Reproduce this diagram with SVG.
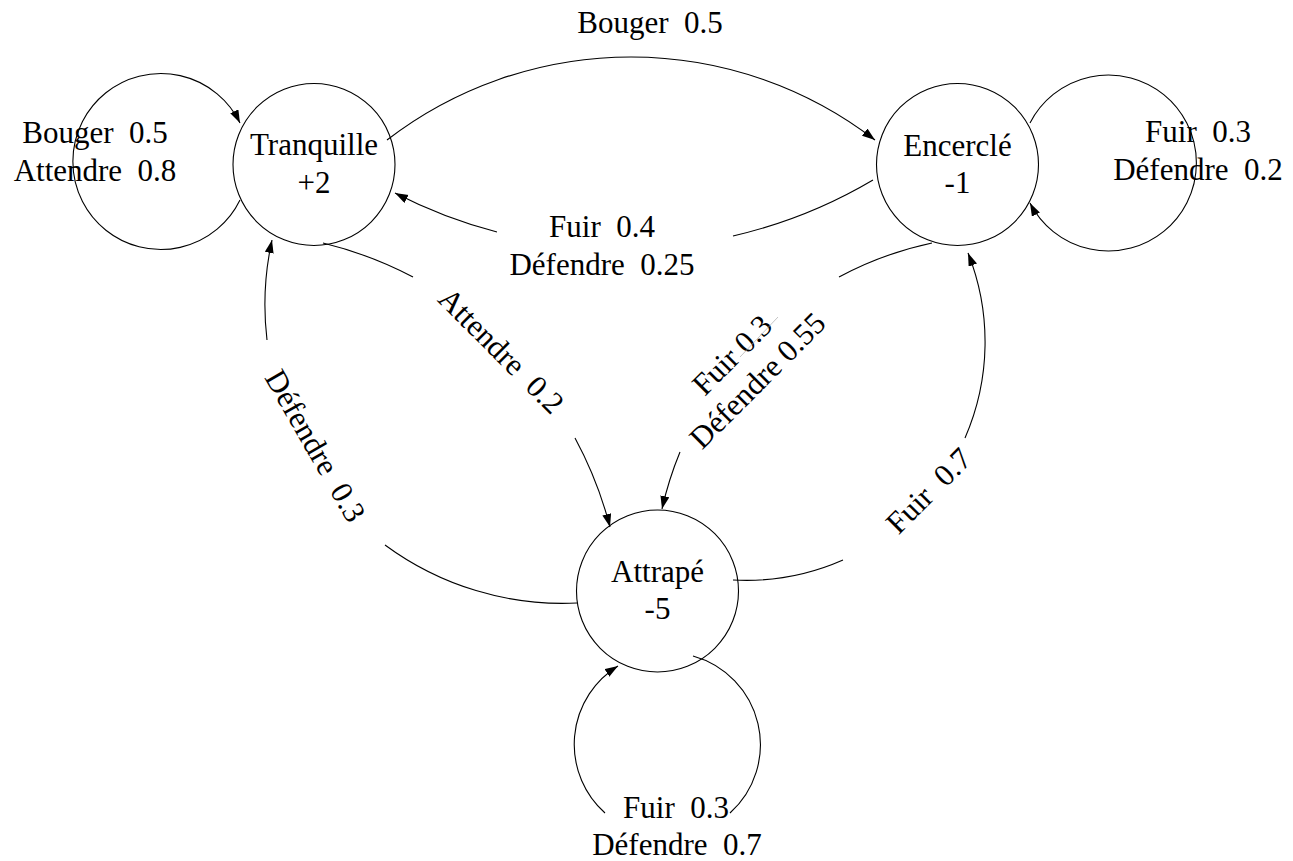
<svg xmlns="http://www.w3.org/2000/svg" width="1293" height="861" viewBox="0 0 1293 861" font-family="Liberation Serif, Times New Roman, serif">
  <style>
    .node { fill: none; stroke: #000; stroke-width: 1.1; }
    .edge { fill: none; stroke: #000; stroke-width: 1.1; }
    .lbl { font-size: 31px; fill: #000; text-anchor: middle; white-space: pre; }
  </style>
  <defs>
    <marker id="arrow" markerUnits="userSpaceOnUse" markerWidth="14" markerHeight="10" refX="13" refY="4.5" orient="auto">
      <path d="M0,0 L13,4.5 L0,9 Z" fill="#000"/>
    </marker>
  </defs>

  <rect width="1293" height="861" fill="#fff"/>

  <!-- transitions -->
  <g id="connectors">
    <!-- Tranquille -> Encerclé -->
    <path class="edge" d="M387,140 A400,400 0 0 1 875,140" marker-end="url(#arrow)"/>
    <text class="lbl" x="650" y="33" xml:space="preserve">Bouger  0.5</text>

    <!-- Tranquille self loop -->
    <path class="edge" d="M240,200 A88,88 0 1 1 240,123" marker-end="url(#arrow)"/>
    <text class="lbl" x="95" y="143" xml:space="preserve">Bouger  0.5</text>
    <text class="lbl" x="95" y="181" xml:space="preserve">Attendre  0.8</text>

    <!-- Encerclé self loop -->
    <path class="edge" d="M1030,123 A88,88 0 1 1 1030,203" marker-end="url(#arrow)"/>
    <text class="lbl" x="1198" y="142" xml:space="preserve">Fuir  0.3</text>
    <text class="lbl" x="1198" y="180" xml:space="preserve">Défendre  0.2</text>

    <!-- Encerclé -> Tranquille -->
    <path class="edge" d="M873,180 A492,492 0 0 1 733,236"/>
    <path class="edge" d="M497,232 A492,492 0 0 1 395,193" marker-end="url(#arrow)"/>
    <text class="lbl" x="602" y="237" xml:space="preserve">Fuir  0.4</text>
    <text class="lbl" x="602" y="275" xml:space="preserve">Défendre  0.25</text>

    <!-- Tranquille -> Attrapé -->
    <path class="edge" d="M323,243 A395,395 0 0 1 413,277"/>
    <path class="edge" d="M575,438 A395,395 0 0 1 610,527" marker-end="url(#arrow)"/>
    <text class="lbl" transform="translate(501,351) rotate(45)" y="10" xml:space="preserve">Attendre  0.2</text>

    <!-- Attrapé -> Tranquille -->
    <path class="edge" d="M577,603 A299,299 0 0 1 385,545"/>
    <path class="edge" d="M267,340 A299,299 0 0 1 272,240" marker-end="url(#arrow)"/>
    <text class="lbl" transform="translate(315,446) rotate(60)" y="10" xml:space="preserve">Défendre  0.3</text>

    <!-- Encerclé -> Attrapé -->
    <path class="edge" d="M932,243 A350,350 0 0 0 839,277"/>
    <path class="edge" d="M680,452 A350,350 0 0 0 662,509" marker-end="url(#arrow)"/>
    <g transform="translate(745,368) rotate(-45)">
      <text class="lbl" y="-8">Fuir 0.3</text>
      <text class="lbl" y="28">Défendre 0.55</text>
    </g>
    <line x1="740" y1="357" x2="778" y2="317" stroke="#aaa" stroke-width="0.7"/>

    <!-- Attrapé -> Encerclé -->
    <path class="edge" d="M733,580 A240,240 0 0 0 843,560"/>
    <path class="edge" d="M965,438 A240,240 0 0 0 968,253" marker-end="url(#arrow)"/>
    <text class="lbl" transform="translate(929,491) rotate(-45)" y="10" xml:space="preserve">Fuir  0.7</text>

    <!-- Attrapé self loop -->
    <path class="edge" d="M693,656 A92,92 0 0 1 730,813"/>
    <path class="edge" d="M605,813 A92,92 0 0 1 618,666" marker-end="url(#arrow)"/>
    <text class="lbl" x="676" y="818" xml:space="preserve">Fuir  0.3</text>
    <text class="lbl" x="677" y="855" xml:space="preserve">Défendre  0.7</text>
  </g>

  <!-- states -->
  <g id="tranquille">
    <circle class="node" cx="314" cy="164.5" r="81"/>
    <text class="lbl" x="314" y="155">Tranquille</text>
    <text class="lbl" x="314" y="193">+2</text>
  </g>
  <g id="encercle">
    <circle class="node" cx="957.5" cy="164.5" r="81"/>
    <text class="lbl" x="957.5" y="156">Encerclé</text>
    <text class="lbl" x="957.5" y="193">-1</text>
  </g>
  <g id="attrape">
    <circle class="node" cx="657.5" cy="591" r="81"/>
    <text class="lbl" x="657.5" y="582">Attrapé</text>
    <text class="lbl" x="657.5" y="619">-5</text>
  </g>
</svg>
